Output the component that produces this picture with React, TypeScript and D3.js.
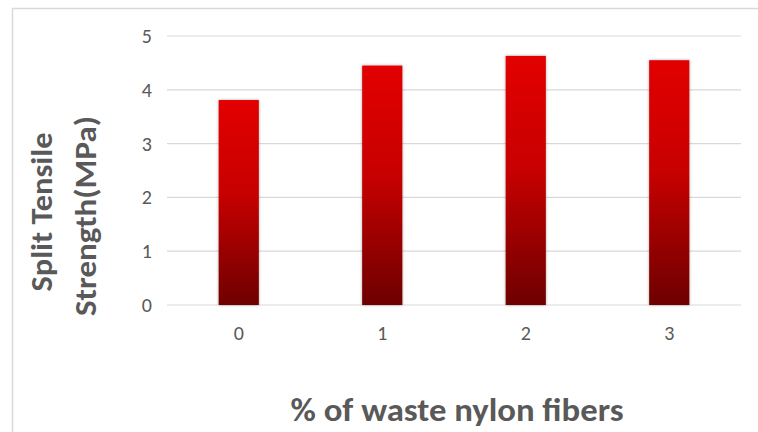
import React from "react";
import * as d3 from "d3";

const categories = ["0", "1", "2", "3"];
const values = [3.81, 4.45, 4.63, 4.55];
const yTicks = [0, 1, 2, 3, 4, 5];
const yTitleLines = ["Split Tensile", "Strength(MPa)"];
const xTitle = "% of waste nylon fibers";

export default function App() {
  const W = 758, H = 432;
  const left = 167, right = 741, top = 36, bottom = 305;
  const x = d3.scaleBand<string>().domain(categories).range([left, right]).paddingInner(0.72).paddingOuter(0.36);
  const y = d3.scaleLinear().domain([0, 5]).range([bottom, top]);
  const font = "Carlito, 'Open Sans', 'Liberation Sans', sans-serif";
  const gray = "#595959";
  const yTitleLen = [159, 200];
  return (
    <svg width={W} height={H} style={{ position: "absolute", left: 0, top: 0, background: "#fff" }}>
      <defs>
        <linearGradient id="barGrad" x1="0" y1="0" x2="0" y2="1">
          <stop offset="0" stopColor="#e20000" />
          <stop offset="0.45" stopColor="#c80000" />
          <stop offset="1" stopColor="#6e0000" />
        </linearGradient>
        <filter id="shadow" x="-30%" y="-10%" width="160%" height="120%">
          <feGaussianBlur in="SourceAlpha" stdDeviation="1.5" />
          <feComponentTransfer><feFuncA type="linear" slope="0.35" /></feComponentTransfer>
          <feMerge><feMergeNode /><feMergeNode in="SourceGraphic" /></feMerge>
        </filter>
      </defs>
      <rect x={12.5} y={8.5} width={W} height={H} fill="#fff" stroke="#d9d9d9" strokeWidth={1.5} />
      {yTicks.map((t) => (
        <g key={t}>
          <line x1={left} x2={right} y1={y(t)} y2={y(t)} stroke="#d9d9d9" strokeWidth={1.2} />
          <text x={152} y={y(t)} dy="0.35em" textAnchor="end" fontFamily={font} fontSize={20} fill={gray}>{t}</text>
        </g>
      ))}
      {categories.map((c, i) => (
        <g key={c}>
          <rect x={x(c)!} y={y(values[i])} width={x.bandwidth()} height={y(0) - y(values[i])} fill="url(#barGrad)" filter="url(#shadow)" />
          <text x={x(c)! + x.bandwidth() / 2} y={333} dy="0.35em" textAnchor="middle" fontFamily={font} fontSize={20} fill={gray}>{c}</text>
        </g>
      ))}
      {yTitleLines.map((s, i) => (
        <text key={s} transform={`translate(${52 + i * 44},${i === 0 ? 212 : 216}) rotate(-90)`} textAnchor="middle" fontFamily={font} fontWeight="bold" fontSize={30} textLength={yTitleLen[i]} lengthAdjust="spacingAndGlyphs" fill={gray}>{s}</text>
      ))}
      <text x={457} y={421} textAnchor="middle" fontFamily={font} fontWeight="bold" fontSize={33} textLength={333} lengthAdjust="spacingAndGlyphs" fill={gray}>{xTitle}</text>
    </svg>
  );
}
